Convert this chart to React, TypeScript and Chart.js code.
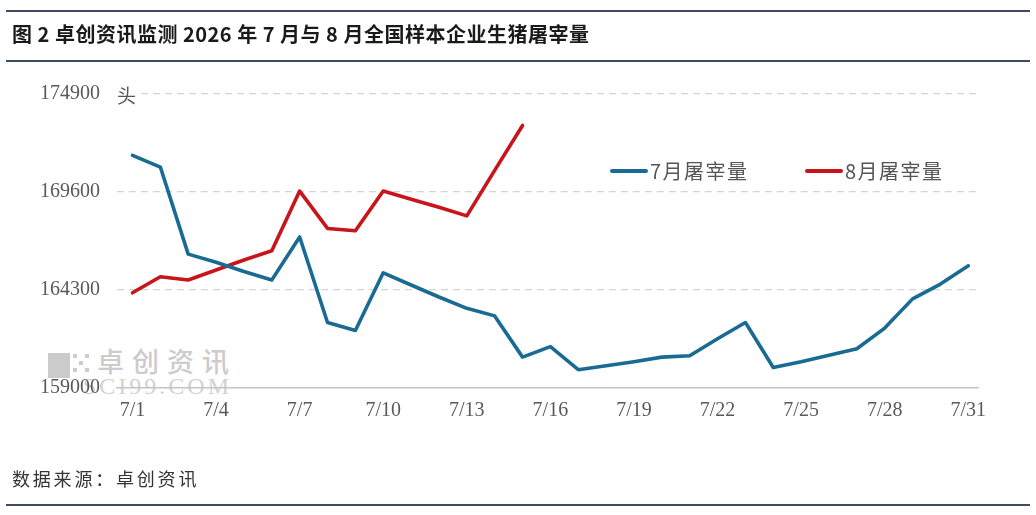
import React, { useEffect, useRef } from "react";
import { Chart, registerables } from "chart.js";

Chart.register(...registerables);

const TITLE = "图 2 卓创资讯监测 2026 年 7 月与 8 月全国样本企业生猪屠宰量";
const SOURCE = "数据来源：卓创资讯";
const UNIT = "头";
const SERIES_NAMES = ["7月屠宰量", "8月屠宰量"];

const DATES = [
  "7/1", "7/2", "7/3", "7/4", "7/5", "7/6", "7/7", "7/8", "7/9", "7/10",
  "7/11", "7/12", "7/13", "7/14", "7/15", "7/16", "7/17", "7/18", "7/19", "7/20",
  "7/21", "7/22", "7/23", "7/24", "7/25", "7/26", "7/27", "7/28", "7/29", "7/30", "7/31",
];

const JULY = [
  171580, 170950, 166240, 165800, 165300, 164840, 167170, 162540, 162110, 165230,
  164570, 163920, 163310, 162900, 160670, 161240, 159990, 160200, 160420, 160670,
  160740, 161660, 162540, 160110, 160420, 160770, 161120, 162240, 163820, 164620, 165610,
];

const AUGUST = [
  164150, 165020, 164840, 165380, 165920, 166420, 169650, 167630, 167500, 169650,
  169210, 168780, 168310, 170770, 173200,
];

const X_TICK_LABELS = ["7/1", "7/4", "7/7", "7/10", "7/13", "7/16", "7/19", "7/22", "7/25", "7/28", "7/31"];
const Y_TICKS = [159000, 164300, 169600, 174900];

const BLUE = "#1a6b93";
const RED = "#c8141a";
const TICK_COLOR = "#595959";
const RULE_COLOR = "#3e4d5f";

export default function App() {
  const ref = useRef<HTMLCanvasElement>(null);

  useEffect(() => {
    document.body.style.margin = "0";
    const canvas = ref.current;
    if (!canvas) return;
    const toPoints = (vals: number[]) => vals.map((v, i) => ({ x: DATES.indexOf(DATES[i]) + 1, y: v }));
    const chart = new Chart(canvas, {
      type: "line",
      data: {
        datasets: [
          {
            label: SERIES_NAMES[0],
            data: toPoints(JULY),
            borderColor: BLUE,
            backgroundColor: BLUE,
            borderWidth: 3.6,
            pointRadius: 0,
            tension: 0,
            borderJoinStyle: "round",
            borderCapStyle: "round",
          },
          {
            label: SERIES_NAMES[1],
            data: toPoints(AUGUST),
            borderColor: RED,
            backgroundColor: RED,
            borderWidth: 3.6,
            pointRadius: 0,
            tension: 0,
            borderJoinStyle: "round",
            borderCapStyle: "round",
          },
        ],
      },
      options: {
        animation: false,
        responsive: false,
        devicePixelRatio: 1,
        layout: { padding: { left: 0, right: 58, top: 94, bottom: 87 } },
        plugins: {
          legend: { display: false },
          tooltip: { enabled: false },
          title: { display: false },
        },
        scales: {
          x: {
            type: "linear",
            min: 0.444,
            max: 31.348,
            grid: { display: false, drawTicks: false },
            border: { display: true, color: "#c4c4c4", width: 1.5 },
            afterBuildTicks: (scale: any) => {
              scale.ticks = X_TICK_LABELS.map((l) => ({ value: DATES.indexOf(l) + 1 }));
            },
            afterFit: (scale: any) => {
              scale.height = 40;
            },
            ticks: {
              autoSkip: false,
              maxRotation: 0,
              padding: 11,
              color: TICK_COLOR,
              font: { family: "'Liberation Serif', serif", size: 20 },
              callback: (value: any) => DATES[Math.round(Number(value)) - 1] ?? "",
            },
          },
          y: {
            type: "linear",
            min: Y_TICKS[0],
            max: Y_TICKS[Y_TICKS.length - 1],
            grid: {
              drawTicks: false,
              color: (ctx: any) => (ctx.tick && ctx.tick.value === Y_TICKS[0] ? "rgba(0,0,0,0)" : "#d4d4d4"),
              lineWidth: 1.2,
            },
            border: { display: false, dash: [7, 5] },
            afterBuildTicks: (scale: any) => {
              scale.ticks = Y_TICKS.map((v) => ({ value: v }));
            },
            afterFit: (scale: any) => {
              scale.width = 117;
            },
            ticks: {
              padding: 17,
              color: TICK_COLOR,
              font: { family: "'Liberation Serif', serif", size: 20 },
              callback: (value: any) => String(value),
            },
          },
        },
      },
    });
    return () => chart.destroy();
  }, []);

  const cjk = "'Noto Sans CJK SC', 'Noto Sans', sans-serif";

  const dots: React.ReactElement[] = [];
  for (let r = 0; r < 3; r++) {
    for (let c = 0; c < 3; c++) {
      if ((r + c) % 2 === 0) {
        dots.push(
          <div
            key={`d${r}${c}`}
            style={{ position: "absolute", left: 73 + c * 6, top: 354 + r * 7, width: 4, height: 4, background: "#cdcdcd" }}
          />
        );
      }
    }
  }

  return (
    <div style={{ position: "relative", width: 1036, height: 515, background: "#ffffff", overflow: "hidden" }}>
      {/* watermark (under the chart) */}
      <div style={{ position: "absolute", left: 48, top: 353, width: 22, height: 25, background: "#cbcbcb" }} />
      {dots}
      <div
        style={{
          position: "absolute",
          left: 97,
          top: 346,
          fontFamily: cjk,
          fontSize: 27,
          fontWeight: 500,
          lineHeight: "30px",
          letterSpacing: 8,
          color: "#cccccc",
          whiteSpace: "nowrap",
        }}
      >
        卓创资讯
      </div>
      <div
        style={{
          position: "absolute",
          left: 83,
          top: 374,
          fontFamily: "'Liberation Serif', serif",
          fontSize: 24,
          lineHeight: "24px",
          letterSpacing: 3,
          color: "#d2d2d2",
          whiteSpace: "nowrap",
        }}
      >
        SCI99.COM
      </div>

      <canvas ref={ref} width={1036} height={515} style={{ position: "absolute", left: 0, top: 0, width: 1036, height: 515 }} />

      {/* rules */}
      <div style={{ position: "absolute", left: 6, top: 10, width: 1024, height: 2, background: RULE_COLOR }} />
      <div style={{ position: "absolute", left: 6, top: 60, width: 1024, height: 2, background: RULE_COLOR }} />
      <div style={{ position: "absolute", left: 6, top: 504, width: 1024, height: 2, background: RULE_COLOR }} />

      {/* title */}
      <div
        style={{
          position: "absolute",
          left: 12,
          top: 22,
          fontFamily: cjk,
          fontWeight: 700,
          fontSize: 20,
          lineHeight: "24px",
          letterSpacing: 0.5,
          color: "#1a1a1a",
          whiteSpace: "pre",
        }}
      >
        {TITLE}
      </div>

      {/* unit */}
      <div
        style={{
          position: "absolute",
          left: 117,
          top: 84,
          fontFamily: cjk,
          fontSize: 19,
          lineHeight: "22px",
          color: TICK_COLOR,
          background: "#ffffff",
          paddingRight: 3,
        }}
      >
        {UNIT}
      </div>

      {/* legend */}
      <div style={{ position: "absolute", left: 610, top: 169, width: 38, height: 4, background: BLUE, borderRadius: 2 }} />
      <div
        style={{
          position: "absolute",
          left: 650,
          top: 159,
          fontFamily: cjk,
          fontSize: 20,
          lineHeight: "24px",
          letterSpacing: 1.5,
          color: "#555555",
          whiteSpace: "nowrap",
        }}
      >
        {SERIES_NAMES[0]}
      </div>
      <div style={{ position: "absolute", left: 805, top: 169, width: 38, height: 4, background: RED, borderRadius: 2 }} />
      <div
        style={{
          position: "absolute",
          left: 845,
          top: 159,
          fontFamily: cjk,
          fontSize: 20,
          lineHeight: "24px",
          letterSpacing: 1.5,
          color: "#555555",
          whiteSpace: "nowrap",
        }}
      >
        {SERIES_NAMES[1]}
      </div>

      {/* source */}
      <div
        style={{
          position: "absolute",
          left: 12,
          top: 467,
          fontFamily: cjk,
          fontSize: 18,
          lineHeight: "22px",
          letterSpacing: 2.8,
          color: "#333333",
          whiteSpace: "nowrap",
        }}
      >
        {SOURCE}
      </div>
    </div>
  );
}
